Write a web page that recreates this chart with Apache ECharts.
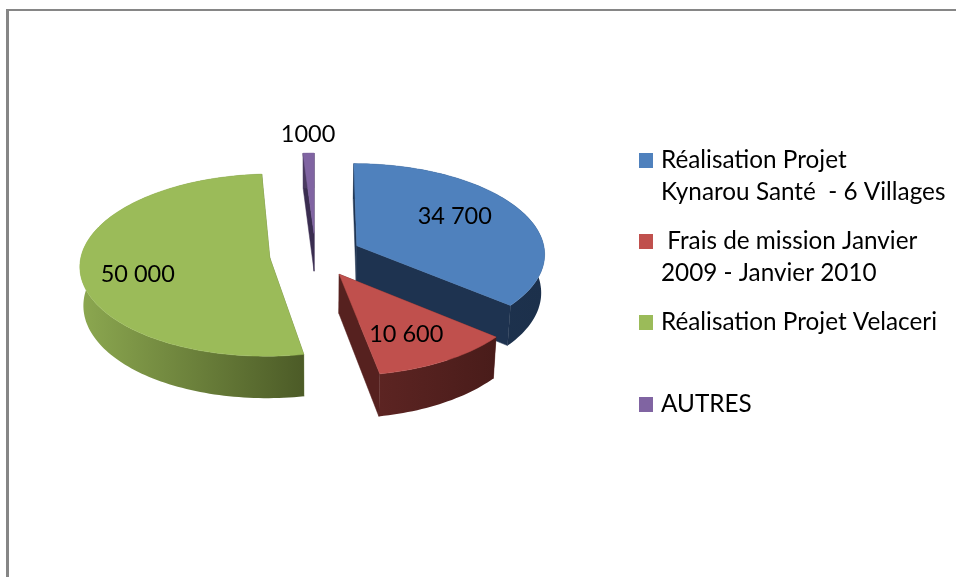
<!DOCTYPE html>
<html><head><meta charset="utf-8">
<style>html,body{margin:0;padding:0;background:#fff}#c{width:956px;height:577px}</style>
<script src="https://cdn.jsdelivr.net/npm/echarts@6/dist/echarts.min.js"></script>
</head><body><div id="c"></div>
<script>
// ---- data ----
const categories = ['Réalisation Projet\nKynarou Santé  - 6 Villages', ' Frais de mission Janvier\n2009 - Janvier 2010', 'Réalisation Projet Velaceri', 'AUTRES'];
const values = [34700, 10600, 50000, 1000];
const valueLabels = ['34 700', '10 600', '50 000', '1000'];

// ---- style and layout ----
const FONT = 'Lato, "Open Sans", sans-serif';
const topColors = ['#4F81BD', '#C0504D', '#9BBB59', '#8064A2'];
const cutColors = ['#1E3350', '#56211F', '#5f7332', '#3a2d50'];
const wallColors = [['#1F3552', '#1C304B'], ['#5C2422', '#491C1A'], ['#8CA850', '#4C5B27'], ['#4a3a60', '#4a3a60']];
const labelOffsets = [[98, -29], [67, 60], [-132, 17], [-6, -99]];
const legendTops = [144.5, 225.5, 306.5, 388.5];
const CX = 315.5, CY = 255, R = 188.5, TILT = 0.478, PERSP = 0.08, EXPLODE = 46, DEPTH = 38.5, SHRINK = 0.985;

const total = values.reduce((a, b) => a + b, 0);
function project(X, Y, low) {
  const s = 1 / (1 + PERSP * Y / R);
  const px = X * s, py = -Y * TILT * s;
  return low ? [CX + px * SHRINK, CY + py + DEPTH * s] : [CX + px, CY + py];
}
function renderSlice(idx) {
  let acc = 0;
  for (let i = 0; i < idx; i++) acc += values[i];
  const t0 = acc / total * 2 * Math.PI, t1 = (acc + values[idx]) / total * 2 * Math.PI, mid = (t0 + t1) / 2;
  const dX = EXPLODE * Math.sin(mid), dY = EXPLODE * Math.cos(mid);
  const rim = low => {
    const pts = [], n = Math.max(4, Math.ceil((t1 - t0) * 40));
    for (let k = 0; k <= n; k++) {
      const t = t0 + (t1 - t0) * k / n;
      pts.push(project(dX + R * Math.sin(t), dY + R * Math.cos(t), low));
    }
    return pts;
  };
  const aT = project(dX, dY, false), aB = project(dX, dY, true);
  const rT = rim(false), rB = rim(true);
  const xs = rT.map(p => p[0]);
  const minX = Math.min(...xs), maxX = Math.max(...xs);
  const wall = {
    type: 'linear', x: minX, y: 0, x2: maxX, y2: 0, global: true,
    colorStops: [{ offset: 0, color: wallColors[idx][0] }, { offset: 1, color: wallColors[idx][1] }]
  };
  const poly = (points, fill, stroke) => ({ type: 'polygon', shape: { points }, style: { fill, stroke: stroke || fill, lineWidth: 0.5 } });
  const lo = labelOffsets[idx];
  return {
    type: 'group',
    children: [
      poly([aT, rT[0], rB[0], aB], cutColors[idx]),
      poly([aT, rT[rT.length - 1], rB[rB.length - 1], aB], cutColors[idx]),
      poly(rT.concat(rB.slice().reverse()), wall, 'transparent'),
      poly([aT].concat(rT), topColors[idx]),
      { type: 'text', z2: 10, x: aT[0] + lo[0], y: aT[1] + lo[1],
        style: { text: valueLabels[idx], fill: '#000', font: '23.5px ' + FONT, textAlign: 'center', textVerticalAlign: 'middle' } }
    ]
  };
}
const drawOrder = [3, 2, 0, 1];
const series = drawOrder.map(i => ({
  type: 'custom',
  name: categories[i],
  coordinateSystem: 'none',
  data: [[values[i]]],
  itemStyle: { color: topColors[i] },
  silent: true,
  renderItem: () => renderSlice(i)
}));
// Marker icon: a square at the top of the item box, so it lines up with the first text line.
const LINE = 32, ICON_W = 14, ICON_H = 15, ICON_BOX_W = 17;
const legends = categories.map((name, i) => {
  const boxH = name.includes('\n') ? ICON_H + LINE : ICON_H;
  return {
    data: [{ name, icon: `path://M0 0h${ICON_W}v${ICON_H}h-${ICON_W}zM${ICON_BOX_W} ${boxH}h0.01v0.01h-0.01z` }],
    orient: 'vertical',
    left: 639,
    top: legendTops[i],
    itemWidth: ICON_BOX_W,
    itemHeight: boxH,
    itemGap: 0,
    selectedMode: false,
    padding: 0,
    textStyle: { fontFamily: FONT, fontSize: 24.3, color: '#000', lineHeight: LINE }
  };
});
const chart = echarts.init(document.getElementById('c'), null, { renderer: 'canvas' });
chart.setOption({
  animation: false,
  backgroundColor: '#fff',
  legend: legends,
  series,
  graphic: [
    { type: 'rect', shape: { x: 6, y: 9, width: 950, height: 2 }, style: { fill: '#868686' } },
    { type: 'rect', shape: { x: 6, y: 9, width: 3, height: 568 }, style: { fill: '#868686' } }
  ]
});
</script></body></html>
